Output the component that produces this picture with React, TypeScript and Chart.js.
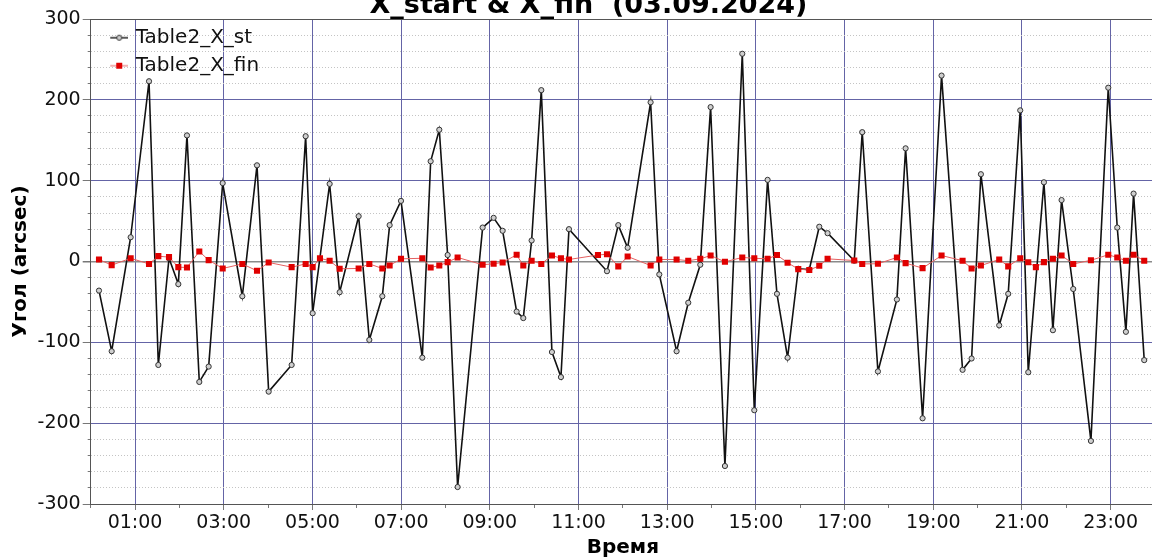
import { useEffect, useRef } from 'react';
import { Chart, registerables } from 'chart.js';

Chart.register(...registerables);

// Texts
const CHART_TITLE = 'X_start & X_fin  (03.09.2024)';
const Y_TITLE = 'Угол (arcsec)';
const X_TITLE = 'Время';
const ST_LABEL = 'Table2_X_st';
const FIN_LABEL = 'Table2_X_fin';

// Table2_X_st: time of day (hours) and angle (arcsec)
const stHours = [
  0.187, 0.473, 0.901, 1.315, 1.525, 1.766, 1.976, 2.171, 2.449, 2.66,
  2.976, 3.419, 3.75, 4.013, 4.531, 4.847, 5.005, 5.388, 5.614, 6.042,
  6.283, 6.576, 6.741, 6.997, 7.478, 7.666, 7.861, 8.049, 8.274, 8.838,
  9.086, 9.289, 9.605, 9.755, 9.943, 10.161, 10.401, 10.604, 10.785, 11.642,
  11.897, 12.108, 12.626, 12.822, 13.212, 13.475, 13.746, 13.979, 14.302, 14.693,
  14.964, 15.264, 15.475, 15.715, 15.956, 16.204, 16.429, 16.617, 17.218, 17.398,
  17.752, 18.18, 18.376, 18.759, 19.187, 19.661, 19.864, 20.074, 20.487, 20.69,
  20.961, 21.142, 21.495, 21.698, 21.893, 22.156, 22.555, 22.946, 23.149, 23.344,
  23.517, 23.757,
];
const stValues = [
  -36, -111, 30, 223, -128, 4, -28, 156, -149, -130,
  97, -43, 119, -161, -128, 155, -64, 96, -38, 56,
  -97, -43, 45, 75, -119, 124, 163, 8, -279, 42,
  54, 38, -62, -70, 26, 212, -112, -143, 40, -12,
  45, 17, 197, -16, -111, -51, -4, 191, -253, 257,
  -184, 101, -40, -119, -9, -10, 43, 35, 1, 160,
  -136, -47, 140, -194, 230, -134, -120, 108, -79, -40,
  187, -137, 98, -85, 76, -34, -222, 215, 42, -87,
  84, -122,
];

// Table2_X_fin: time of day (hours) and angle (arcsec)
const finHours = [
  0.187, 0.473, 0.901, 1.315, 1.525, 1.766, 1.976, 2.171, 2.449, 2.66,
  2.976, 3.419, 3.75, 4.013, 4.531, 4.847, 5.005, 5.17, 5.388, 5.614,
  6.042, 6.283, 6.576, 6.741, 6.997, 7.478, 7.666, 7.861, 8.049, 8.274,
  8.838, 9.086, 9.289, 9.605, 9.755, 9.943, 10.161, 10.401, 10.604, 10.785,
  11.439, 11.642, 11.897, 12.108, 12.626, 12.822, 13.212, 13.475, 13.746, 13.979,
  14.302, 14.693, 14.964, 15.264, 15.475, 15.715, 15.956, 16.204, 16.429, 16.617,
  17.218, 17.398, 17.752, 18.18, 18.376, 18.759, 19.187, 19.661, 19.864, 20.074,
  20.487, 20.69, 20.961, 21.142, 21.314, 21.495, 21.698, 21.893, 22.156, 22.555,
  22.946, 23.149, 23.344, 23.517, 23.757,
];
const finValues = [
  2.5, -4.5, 4, -3, 6.6, 5.4, -7, -7.4, 12.4, 1.7,
  -8.6, -3, -11.5, -1.2, -7, -3, -7, 4, 1, -9,
  -8.6, -3, -8.6, -5, 3.3, 4, -7.4, -5, -0.8, 5,
  -4, -2.8, -1.2, 8.3, -5, 1, -3, 7.4, 4, 2.5,
  8, 9, -6, 6.2, -5, 2.5, 2.5, 1, 3.3, 7.4,
  -0.4, 5, 4, 3.3, 8, -1.5, -9.4, -10.6, -5.3, 3.3,
  1.2, -3, -2.8, 5, -2, -8.2, 7.4, 1, -8.6, -5,
  2.5, -6, 4, -1, -7, -0.8, 3.3, 7.4, -3, 1.5,
  8.3, 5, 1, 8.3, 1,
];

// Axis ranges
const X_MIN = 0;
const X_MAX = 24;
const Y_MIN = -300;
const Y_MAX = 300;
const Y_MAJOR = 100;
const Y_MINOR = 20;

const FONT = '"DejaVu Sans", Verdana, sans-serif';
const GRID_BLUE = '#6464a6';
const GRID_MINOR = '#c4c4c4';
const AXIS_DARK = '#555555';

const CANVAS_W = 1177;
const CANVAS_H = 569;
const TITLE_BAND = 28;
const TITLE_CENTER_X = 588.5;
const TITLE_CENTER_Y = 15;

const isMajorY = (v: number) => Math.abs(v % Y_MAJOR) < 1e-6;
const isOddHour = (v: number) => Math.round(v) % 2 === 1;
const hourLabel = (v: number) => `${String(Math.round(v)).padStart(2, '0')}:00`;

// Chart heading, drawn in the band reserved above the plot
const headingPlugin = {
  id: 'heading',
  afterDraw(chart: any) {
    const ctx = chart.ctx;
    ctx.save();
    ctx.font = `bold 27px ${FONT}`;
    ctx.fillStyle = '#000';
    ctx.textAlign = 'center';
    ctx.textBaseline = 'middle';
    ctx.fillText(CHART_TITLE, TITLE_CENTER_X, TITLE_CENTER_Y);
    ctx.restore();
  },
};

// Small line-with-marker swatches for the legend
function makeSwatch(kind: 'circle' | 'square'): HTMLCanvasElement {
  const c = document.createElement('canvas');
  c.width = 32;
  c.height = 12;
  const g = c.getContext('2d')!;
  g.beginPath();
  g.moveTo(14, 6);
  g.lineTo(32, 6);
  if (kind === 'circle') {
    g.strokeStyle = '#222';
    g.lineWidth = 1.5;
    g.stroke();
    g.beginPath();
    g.arc(23, 6, 2.5, 0, Math.PI * 2);
    g.fillStyle = '#cfcfcf';
    g.fill();
    g.strokeStyle = '#333';
    g.lineWidth = 1;
    g.stroke();
  } else {
    g.strokeStyle = '#e46060';
    g.lineWidth = 1;
    g.stroke();
    g.fillStyle = '#e00000';
    g.fillRect(20, 3, 6, 6);
  }
  return c;
}

export default function App() {
  const canvasRef = useRef<HTMLCanvasElement | null>(null);

  useEffect(() => {
    const canvas = canvasRef.current;
    if (!canvas) return;
    const stSwatch = makeSwatch('circle');
    const finSwatch = makeSwatch('square');

    const chart = new Chart(canvas, {
      type: 'line',
      data: {
        datasets: [
          {
            label: ST_LABEL,
            data: stHours.map((h, i) => ({ x: h, y: stValues[i] })),
            borderColor: '#111111',
            borderWidth: 1.6,
            pointRadius: 2.6,
            pointBackgroundColor: '#cfcfcf',
            pointBorderColor: '#333333',
            pointBorderWidth: 1,
            tension: 0,
            order: 1,
          },
          {
            label: FIN_LABEL,
            data: finHours.map((h, i) => ({ x: h, y: finValues[i] })),
            borderColor: '#e46060',
            borderWidth: 1,
            pointStyle: 'rect',
            pointRadius: 4.3,
            pointBackgroundColor: '#e00000',
            pointBorderColor: '#e00000',
            pointBorderWidth: 0,
            tension: 0,
            order: 0,
          },
        ],
      },
      plugins: [headingPlugin],
      options: {
        responsive: false,
        animation: false,
        layout: { padding: { left: 0, right: 22, top: TITLE_BAND, bottom: 0 } },
        plugins: {
          title: { display: false },
          legend: {
            position: 'chartArea',
            align: 'start',
            title: {
              display: true,
              text: '',
              font: { family: FONT, size: 20, lineHeight: 1 },
              padding: { top: 8.7, bottom: 0 },
            },
            labels: {
              usePointStyle: true,
              pointStyleWidth: 27,
              padding: 8,
              color: '#111',
              font: { family: FONT, size: 20 },
              sort: (a: any, b: any) => a.datasetIndex - b.datasetIndex,
              generateLabels: (c: any) => {
                const items = (Chart.defaults.plugins.legend.labels as any).generateLabels(c);
                return items.map((it: any) => ({
                  ...it,
                  pointStyle: it.datasetIndex === 0 ? stSwatch : finSwatch,
                }));
              },
            },
          },
          tooltip: { enabled: false },
        },
        scales: {
          x: {
            type: 'linear',
            min: X_MIN,
            max: X_MAX,
            afterFit: (s: any) => {
              s.height = 56;
            },
            ticks: {
              stepSize: 1,
              autoSkip: false,
              maxRotation: 0,
              minRotation: 0,
              padding: 2,
              color: '#111',
              font: { family: FONT, size: 19 },
              callback: (v: any) => (isOddHour(Number(v)) ? hourLabel(Number(v)) : ''),
            },
            grid: {
              color: (ctx: any) =>
                ctx.tick && isOddHour(ctx.tick.value) ? GRID_BLUE : 'rgba(0,0,0,0)',
              lineWidth: 1,
              tickLength: 6,
              tickColor: '#777',
              tickBorderDash: (ctx: any) =>
                ctx.tick && isOddHour(ctx.tick.value) ? [] : [3, 20],
            },
            border: { display: true, color: AXIS_DARK, width: 1 },
            title: {
              display: true,
              text: X_TITLE,
              color: '#000',
              font: { family: FONT, size: 20, weight: 'bold', lineHeight: 1.2 },
              padding: { top: 0, bottom: 0 },
            },
          },
          y: {
            type: 'linear',
            min: Y_MIN,
            max: Y_MAX,
            afterFit: (s: any) => {
              s.width = 90.7;
            },
            ticks: {
              stepSize: Y_MINOR,
              autoSkip: false,
              padding: 2,
              color: '#111',
              font: { family: FONT, size: 19 },
              callback: (v: any) => (isMajorY(Number(v)) ? String(Math.round(Number(v))) : ''),
            },
            grid: {
              color: (ctx: any) => {
                if (!ctx.tick) return GRID_MINOR;
                const v = ctx.tick.value;
                if (Math.abs(v) < 1e-6) return '#8a8a8a';
                if (v >= Y_MAX - 1e-6) return AXIS_DARK;
                return isMajorY(v) ? GRID_BLUE : GRID_MINOR;
              },
              lineWidth: (ctx: any) => (ctx.tick && Math.abs(ctx.tick.value) < 1e-6 ? 1.5 : 1),
              tickLength: 8,
              tickColor: '#777',
              tickBorderDash: (ctx: any) =>
                ctx.tick && isMajorY(ctx.tick.value) ? [] : [0, 5, 3, 0],
            },
            border: {
              display: true,
              color: AXIS_DARK,
              width: 1,
              dash: (ctx: any) => (ctx.tick && !isMajorY(ctx.tick.value) ? [1, 2] : []),
            },
            title: {
              display: true,
              text: Y_TITLE,
              color: '#000',
              font: { family: FONT, size: 20, weight: 'bold', lineHeight: 1.2 },
              padding: { top: 8.5, bottom: 0 },
            },
          },
        },
      },
    } as any);

    return () => chart.destroy();
  }, []);

  return (
    <div style={{ position: 'fixed', left: 0, top: -9, width: CANVAS_W, height: CANVAS_H }}>
      <canvas ref={canvasRef} width={CANVAS_W} height={CANVAS_H} style={{ display: 'block' }} />
    </div>
  );
}
